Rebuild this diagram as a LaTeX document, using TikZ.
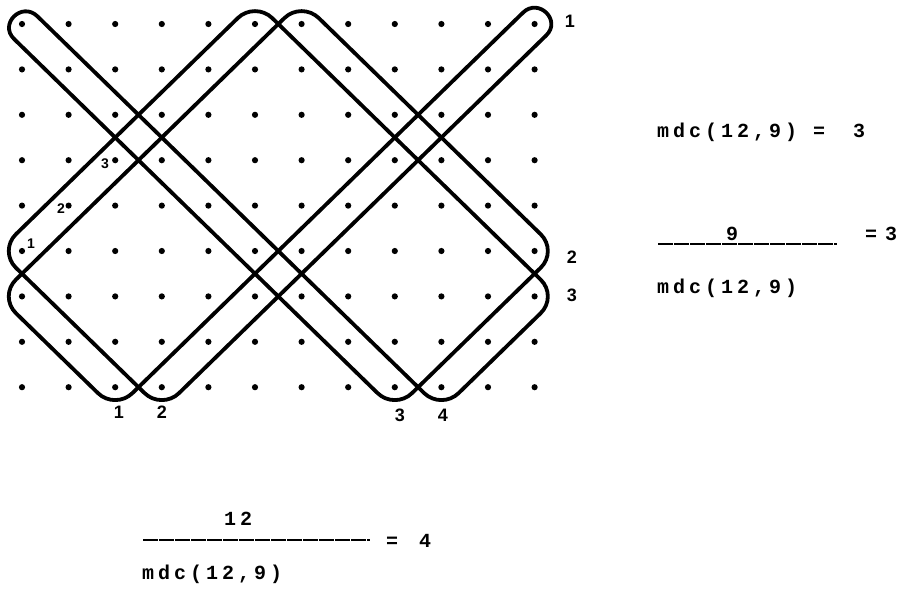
\documentclass[tikz,border=0pt]{standalone}
\usepackage{fontspec}
\newfontfamily\eqfont[LetterSpace=20]{Liberation Mono}
\newfontfamily\eqplain{Liberation Mono}
\newfontfamily\lblfont{Liberation Sans}
\begin{document}
\begin{tikzpicture}[x=1pt,y=-1pt,
  loopline/.style={line width=3.8pt, line cap=round, line join=round},
  bendline/.style={loopline, rounded corners=24pt},
  eqs/.style={font=\eqfont\bfseries\fontsize{20}{22}\selectfont, inner sep=0pt},
  eqc/.style={font=\eqplain\bfseries\fontsize{20}{22}\selectfont, inner sep=0pt, anchor=base},
  lbl/.style={font=\lblfont\bfseries\fontsize{18}{18}\selectfont, inner sep=0pt},
  slbl/.style={font=\lblfont\bfseries\fontsize{14}{14}\selectfont, inner sep=0pt},
  fracbar/.style={line width=1.6pt, dash pattern=on 15pt off 1pt}]
\useasboundingbox (0,0) rectangle (898,590);
\begin{scope}[shift={(22,24)}, x=46.6pt, y=-45.4pt]
  \foreach \u in {0,...,11} \foreach \v in {0,...,8} \fill (\u,\v) circle[radius=3.1pt];
  % boundary L
  \coordinate (L0) at (-0.17,0.33);
  \coordinate (L1) at (8,8.5);
  \coordinate (L2) at (11.5,5);
  \coordinate (L3) at (6,-0.5);
  \coordinate (L4) at (-0.5,6);
  \coordinate (L5) at (2,8.5);
  \coordinate (L6) at (10.75,-0.25);
  % boundary R
  \coordinate (R0) at (11.25,0.25);
  \coordinate (R1) at (3,8.5);
  \coordinate (R2) at (-0.5,5);
  \coordinate (R3) at (5,-0.5);
  \coordinate (R4) at (11.5,6);
  \coordinate (R5) at (9,8.5);
  \coordinate (R6) at (0.33,-0.17);
  \draw[bendline] (L0) -- (L1) -- (L2) -- (L3) -- (L4) -- (L5) -- (L6);
  \draw[loopline] (L6) .. controls (11.083,-0.583) and (11.583,-0.083) .. (R0);
  \draw[bendline] (R0) -- (R1) -- (R2) -- (R3) -- (R4) -- (R5) -- (R6);
  \draw[loopline] (R6) .. controls (-0.003,-0.503) and (-0.503,-0.003) .. (L0);
\end{scope}
% labels
\node[lbl] (t1) at (570,21) {1};
\node[lbl] (r2) at (572,257) {2};
\node[lbl] (r3) at (572,295) {3};
\node[lbl] (b1) at (119,412) {1};
\node[lbl] (b2) at (162,412) {2};
\node[lbl] (b3) at (400,415) {3};
\node[lbl] (b4) at (443,415) {4};
\node[slbl] (l1) at (31,244) {1};
\node[slbl] (l2) at (61,209) {2};
\node[slbl] (l3) at (105,164) {3};
% equation 1
\node[eqs, anchor=base west] (e1a) at (657,137) {mdc(12,9)};
\node[eqc] (e1b) at (819,137) {=};
\node[eqc] (e1c) at (859,137) {3};
% equation 2
\node[eqc] (e2n) at (732,240) {9};
\coordinate (f2a) at (658,244);
\coordinate (f2b) at (837,244);
\draw[fracbar] (f2a) -- (f2b);
\node[eqc] (e2b) at (871,240) {=};
\node[eqc] (e2c) at (891,240) {3};
\node[eqs, anchor=base west] (e2d) at (657,293) {mdc(12,9)};
% equation 3
\node[eqs, anchor=base west] (e3n) at (224,525) {12};
\coordinate (f3a) at (143,540);
\coordinate (f3b) at (370,540);
\draw[fracbar] (f3a) -- (f3b);
\node[eqc] (e3b) at (392,547) {=};
\node[eqc] (e3c) at (425,547) {4};
\node[eqs, anchor=base west] (e3d) at (142,579) {mdc(12,9)};
\end{tikzpicture}
\end{document}
